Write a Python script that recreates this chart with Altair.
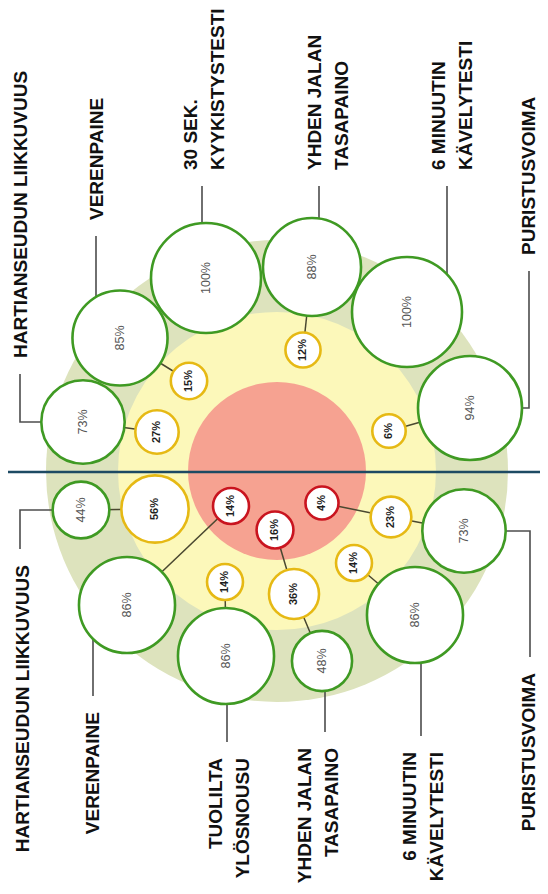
import altair as alt
import pandas as pd

# ---------------- data ----------------
# concentric background zones (layout units = px of the original)
center_x = [277]
center_y = [471]
ring_name = ["outer", "middle", "inner"]
ring_radius = [231, 159, 89]
ring_color = ["#dde3bd", "#fcf8ba", "#f6a291"]

divider_y = [472]
divider_x = [8, 540]

# bubbles: side of the divider, test, zone, value (%), layout position
bubble_side = ["top"] * 10 + ["bottom"] * 14
bubble_test = ["HL", "HL", "VP", "VP", "KY", "YJ", "YJ", "MK", "PV", "PV",
               "HL", "HL", "VP", "VP", "TY", "TY", "YJ", "YJ", "YJ", "MK", "MK", "PV", "PV", "PV"]
bubble_level = ["green", "yellow", "green", "yellow", "green", "green", "yellow", "green", "green", "yellow",
                "green", "yellow", "green", "red", "green", "yellow", "green", "yellow", "red",
                "green", "yellow", "green", "yellow", "red"]
bubble_value = [73, 27, 85, 15, 100, 88, 12, 100, 94, 6,
                44, 56, 86, 14, 86, 14, 48, 36, 16, 86, 14, 73, 23, 4]
bubble_x = [83, 157, 120, 189, 206, 312, 303, 407, 470, 389,
            81, 155, 127, 231, 226, 225, 322, 294, 275, 415, 354, 464, 391, 322]
bubble_y = [422, 432, 338, 381, 278, 267, 350, 312, 408, 431,
            510, 509, 605, 506, 656, 582, 661, 594, 530, 615, 563, 531, 517, 503]

# labels
label_side = ["top"] * 6 + ["bottom"] * 6
label_test = ["HL", "VP", "KY", "YJ", "MK", "PV", "HL", "VP", "TY", "YJ", "MK", "PV"]
label_lines = [["HARTIANSEUDUN LIIKKUVUUS"], ["VERENPAINE"], ["30 SEK.", "KYYKISTYSTESTI"],
               ["YHDEN JALAN", "TASAPAINO"], ["6 MINUUTIN", "KÄVELYTESTI"], ["PURISTUSVOIMA"],
               ["HARTIANSEUDUN LIIKKUVUUS"], ["VERENPAINE"], ["TUOLILTA", "YLÖSNOUSU"],
               ["YHDEN JALAN", "TASAPAINO"], ["6 MINUUTIN", "KÄVELYTESTI"], ["PURISTUSVOIMA"]]
label_x = [21, 97, 204, 328, 452, 529, 23, 93, 229, 318, 423, 529]
leader_x = [20, 96, 202, 319, 447, 529, 20, 93, 227, 325, 421, 530]
label_y = [358, 220, 170, 170, 170, 255, 565, 712, 758, 748, 752, 673]

LINE_STEP = 27
LEADER_GAP = 16

# ---------------- tables ----------------
rings = pd.DataFrame({"name": ring_name, "radius": ring_radius,
                      "x": center_x * 3, "y": center_y * 3})
bubbles = pd.DataFrame({"side": bubble_side, "test": bubble_test, "level": bubble_level,
                        "value": bubble_value, "x": bubble_x, "y": bubble_y})
bubbles["group"] = bubbles["side"] + "-" + bubbles["test"]
bubbles["rank"] = bubbles["level"].map({"red": 0, "yellow": 1, "green": 2})
bubbles["pct"] = bubbles["value"].astype(str) + "%"

text_rows = []
leader_rows = []
for i in range(len(label_test)):
    lines = label_lines[i]
    n = len(lines)
    for j, t in enumerate(lines):
        text_rows.append({"side": label_side[i], "text": t,
                          "x": label_x[i] + (j - (n - 1) / 2) * LINE_STEP, "y": label_y[i]})
    g = bubbles[(bubbles.side == label_side[i]) & (bubbles.test == label_test[i]) & (bubbles.level == "green")].iloc[0]
    end_y = label_y[i] + (LEADER_GAP if label_side[i] == "top" else -LEADER_GAP)
    pts = [(g.x, g.y), (leader_x[i], g.y), (leader_x[i], end_y)]
    for k, (px, py) in enumerate(pts):
        leader_rows.append({"id": i, "seq": k, "x": px, "y": py})
texts = pd.DataFrame(text_rows)
leaders = pd.DataFrame(leader_rows)
divider = pd.DataFrame({"x": [divider_x[0]], "x2": [divider_x[1]], "y": divider_y})

# ---------------- scales ----------------
W, H = 532, 878
xs = alt.Scale(domain=[8, 8 + W], nice=False, zero=False)
ys = alt.Scale(domain=[8, 8 + H], nice=False, zero=False, reverse=True)
X = lambda: alt.X("x:Q", scale=xs, axis=None)
Y = lambda: alt.Y("y:Q", scale=ys, axis=None)

ring_layer = alt.Chart(rings).mark_circle(opacity=1).encode(
    x=X(), y=Y(),
    size=alt.Size("radius:Q", scale=alt.Scale(type="pow", exponent=2, domain=[0, 231], range=[0, 4 * 231 * 231]), legend=None),
    color=alt.Color("name:N", scale=alt.Scale(domain=ring_name, range=ring_color), legend=None),
    order=alt.Order("radius:Q", sort="descending"),
)

divider_layer = alt.Chart(divider).mark_rule(color="#1d4a63", strokeWidth=2.5).encode(
    x=X(), x2="x2:Q", y=Y()
)

connector_layer = alt.Chart(bubbles).mark_line(color="#4a4830", strokeWidth=1.5).encode(
    x=X(), y=Y(), detail="group:N", order="rank:Q"
)

leader_layer = alt.Chart(leaders).mark_line(color="#4d4d4d", strokeWidth=1.6).encode(
    x=X(), y=Y(), detail="id:N", order="seq:Q"
)

bubble_layer = alt.Chart(bubbles).mark_circle(fill="white", fillOpacity=1, opacity=1, strokeOpacity=1).encode(
    x=X(), y=Y(),
    size=alt.Size("value:Q", scale=alt.Scale(type="pow", exponent=2, domain=[0, 100], range=[1076, 12100]), legend=None),
    stroke=alt.Stroke("level:N", scale=alt.Scale(domain=["green", "yellow", "red"],
                                                  range=["#3f9a23", "#e6b914", "#c9141f"]), legend=None),
    strokeWidth=alt.StrokeWidth("level:N", scale=alt.Scale(domain=["green", "yellow", "red"],
                                                            range=[2.6, 2.6, 3.2]), legend=None),
)

pct_green = alt.Chart(bubbles).transform_filter("datum.level == 'green'").mark_text(
    angle=270, align="center", baseline="middle", font="Liberation Sans", fontSize=12.5, color="#555555"
).encode(x=X(), y=Y(), text="pct:N")

pct_small = alt.Chart(bubbles).transform_filter("datum.level != 'green'").mark_text(
    angle=270, align="center", baseline="middle", font="Liberation Sans", fontSize=11,
    fontWeight="bold", color="#1e1e1e"
).encode(x=X(), y=Y(), text="pct:N")

label_top = alt.Chart(texts).transform_filter("datum.side == 'top'").mark_text(
    angle=270, align="left", baseline="middle", font="Liberation Sans", fontSize=19,
    fontWeight="bold", color="#111111"
).encode(x=X(), y=Y(), text="text:N")

label_bottom = alt.Chart(texts).transform_filter("datum.side == 'bottom'").mark_text(
    angle=270, align="right", baseline="middle", font="Liberation Sans", fontSize=19,
    fontWeight="bold", color="#111111"
).encode(x=X(), y=Y(), text="text:N")

chart = alt.layer(
    ring_layer, divider_layer, connector_layer, leader_layer, bubble_layer,
    pct_green, pct_small, label_top, label_bottom
).resolve_scale(
    size="independent", color="independent"
).properties(
    width=W, height=H, autosize=alt.AutoSizeParams(type="none"), padding=0,
    background="white"
).configure_view(stroke=None)

chart.save("out.html", embed_options={"renderer": "svg", "actions": False})
